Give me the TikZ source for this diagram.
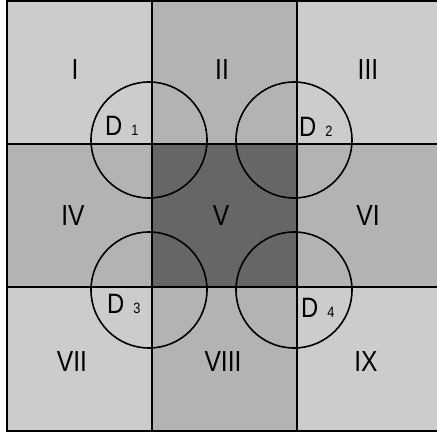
\documentclass[tikz,border=0pt]{standalone}
\usepackage{fontspec}
\setmainfont[FakeStretch=0.85]{Liberation Sans}
\usepackage{tikz}
\usetikzlibrary{positioning}

\definecolor{lightgr}{RGB}{204,204,204}
\definecolor{midgr}{RGB}{179,179,179}
\definecolor{darkgr}{RGB}{102,102,102}

\tikzset{
  grid line/.style={line width=2pt,black},
  zone/.style={inner sep=0pt,font=\fontsize{29}{29}\selectfont},
  dlabel/.style={inner sep=0pt,anchor=base west,font=\fontsize{28}{28}\selectfont},
  disc/.style={line width=1.6pt,black}
}
\newcommand{\dsub}[1]{D\hspace{9pt}{\fontsize{15}{15}\selectfont #1}}

\begin{document}
\begin{tikzpicture}[x=1pt,y=-1pt]
\clip (0,0) rectangle (437,435);
\fill[white] (0,0) rectangle (437,435);
\coordinate (o) at (7,1);
\coordinate (e) at (442,431);
\coordinate (a1) at (152,1);
\coordinate (a2) at (297,1);
\coordinate (b1) at (7,144);
\coordinate (b2) at (7,287);
% shaded bands
\fill[lightgr] (o) rectangle (e);
\fill[midgr] (a1) rectangle (297,431);
\fill[midgr] (b1) rectangle (442,287);
\fill[darkgr] (152,144) rectangle (297,287);
% grid
\draw[grid line] (o) rectangle (e);
\draw[grid line] (a1) -- (152,431);
\draw[grid line] (a2) -- (297,431);
\draw[grid line] (b1) -- (442,144);
\draw[grid line] (b2) -- (442,287);
% discs
\draw[disc] (149,140) circle (58);
\draw[disc] (294,140) circle (58);
\draw[disc] (149,290) circle (58);
\draw[disc] (294,290) circle (58);
% zone labels
\node[zone] (z1) at (75,70) {I};
\node[zone] (z2) at (222,70) {II};
\node[zone] (z3) at (368,70) {III};
\node[zone] (z4) at (73,216) {IV};
\node[zone] (z5) at (221,216) {V};
\node[zone] (z6) at (368,216) {VI};
\node[zone] (z7) at (72,362) {VII};
\node[zone] (z8) at (223,362) {VIII};
\node[zone] (z9) at (366,362) {IX};
% disc labels
\node[dlabel] (d1) at (105,136) {\dsub{1}};
\node[dlabel] (d2) at (299,137) {\dsub{2}};
\node[dlabel] (d3) at (107,314) {\dsub{3}};
\node[dlabel] (d4) at (301,318) {\dsub{4}};
\end{tikzpicture}
\end{document}
